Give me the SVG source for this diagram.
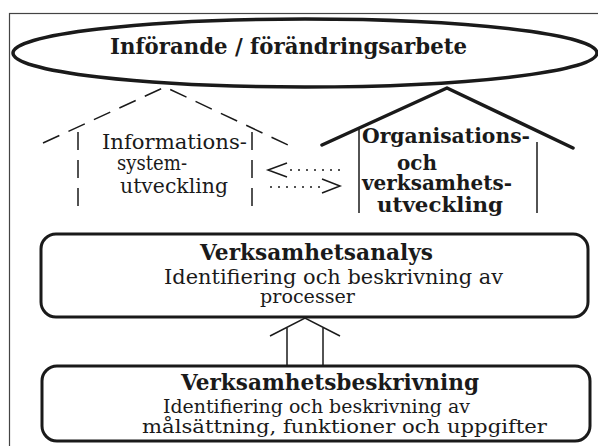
<svg xmlns="http://www.w3.org/2000/svg" width="598" height="446" viewBox="0 0 598 446">
<style>
text{font-family:"DejaVu Serif","Liberation Serif",serif;fill:#1a1a1a}
.b{font-weight:bold}
.t23{font-size:23px}
.t22{font-size:22px}
.t21{font-size:21px}
.t20{font-size:20px}
.t19{font-size:19px}
.thick{fill:none;stroke:#1a1a1a;stroke-width:3.5;stroke-linejoin:round;stroke-linecap:round}
.box{fill:#fff;stroke:#1a1a1a;stroke-width:3}
.thin{fill:none;stroke:#1a1a1a;stroke-width:1.5}
.dash{fill:none;stroke:#1a1a1a;stroke-width:1.5;stroke-dasharray:18 10}
.dot{fill:none;stroke:#1a1a1a;stroke-width:1.3;stroke-dasharray:2 6}
</style>
<rect x="0" y="0" width="598" height="446" fill="#fff"/>
<rect x="9.5" y="13.5" width="600" height="440" fill="none" stroke="#444" stroke-width="1.2"/>

<g id="node-inforande">
<ellipse cx="305" cy="53" rx="292" ry="34" class="thick" fill="#fff"/>
<text class="b t23" x="110" y="54" textLength="357" lengthAdjust="spacingAndGlyphs">Införande / förändringsarbete</text>
</g>

<g id="node-is">
<polyline points="43,143 165,87 288,145" class="dash"/>
<line x1="78" y1="132" x2="78" y2="214" class="dash"/>
<line x1="252" y1="132" x2="252" y2="214" class="dash"/>
<text class="t21" x="102" y="149" textLength="145" lengthAdjust="spacingAndGlyphs">Informations-</text>
<text class="t21" x="117" y="170" textLength="70" lengthAdjust="spacingAndGlyphs">system-</text>
<text class="t21" x="120" y="193" textLength="108" lengthAdjust="spacingAndGlyphs">utveckling</text>
</g>

<g id="node-ov">
<polyline points="322,145 447,88 573,148" class="thick"/>
<line x1="359" y1="128" x2="359" y2="213" class="thin"/>
<line x1="537" y1="142" x2="537" y2="213" class="thin"/>
<text class="b t21" x="362" y="143" textLength="168" lengthAdjust="spacingAndGlyphs">Organisations-</text>
<text class="b t21" x="397" y="170" textLength="40" lengthAdjust="spacingAndGlyphs">och</text>
<text class="b t21" x="362" y="190" textLength="150" lengthAdjust="spacingAndGlyphs">verksamhets-</text>
<text class="b t21" x="377" y="212" textLength="126" lengthAdjust="spacingAndGlyphs">utveckling</text>
</g>

<g id="node-analys">
<rect x="41" y="234" width="547" height="83" rx="15" class="box"/>
<text class="b t22" x="200" y="260" textLength="233" lengthAdjust="spacingAndGlyphs">Verksamhetsanalys</text>
<text class="t20" x="164" y="284" textLength="339" lengthAdjust="spacingAndGlyphs">Identifiering och beskrivning av</text>
<text class="t19" x="260" y="303" textLength="95" lengthAdjust="spacingAndGlyphs">processer</text>
</g>

<g id="node-beskrivning">
<rect x="42" y="366" width="548" height="75" rx="15" class="box"/>
<text class="b t22" x="181" y="390" textLength="298" lengthAdjust="spacingAndGlyphs">Verksamhetsbeskrivning</text>
<text class="t19" x="163" y="413" textLength="307" lengthAdjust="spacingAndGlyphs">Identifiering och beskrivning av</text>
<text class="t19" x="142" y="433" textLength="405" lengthAdjust="spacingAndGlyphs">målsättning, funktioner och uppgifter</text>
</g>

<g id="connectors">
<line x1="290" y1="170" x2="342" y2="170" class="dot"/>
<polyline points="287,163 268,170 287,177" class="thin"/>
<line x1="270" y1="187" x2="320" y2="187" class="dot"/>
<polyline points="322,179 340,186 322,193" class="thin"/>
<polyline points="270,336 305,318 340,336" class="thin"/>
<line x1="287" y1="328" x2="287" y2="366" class="thin"/>
<line x1="323" y1="328" x2="323" y2="366" class="thin"/>
</g>
</svg>
